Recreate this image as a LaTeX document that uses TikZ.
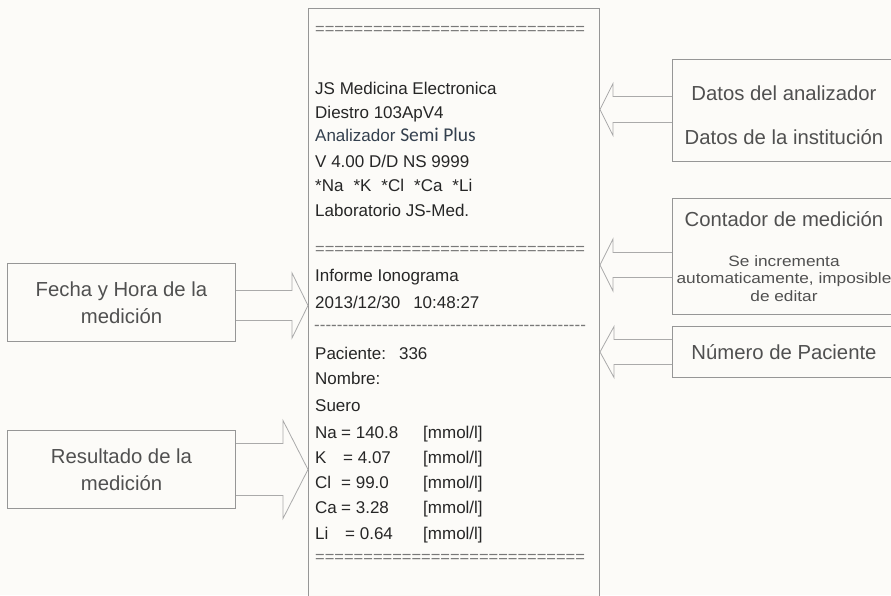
\documentclass[tikz,border=0pt]{standalone}
\usepackage{fontspec}
\setmainfont{Liberation Sans}
\newfontfamily\calibri{Carlito}
\usetikzlibrary{calc,positioning}
\definecolor{paper}{RGB}{252,251,248}
\definecolor{ink}{RGB}{38,38,38}
\definecolor{slate}{RGB}{52,64,78}
\definecolor{labelgray}{RGB}{80,80,80}
\definecolor{framegray}{RGB}{150,150,150}
\definecolor{arrowgray}{RGB}{170,170,170}
\definecolor{rulegray}{RGB}{120,120,120}

\tikzset{
  infobox/.style={draw=framegray, line width=1pt, fill=paper, text=labelgray,
    align=center, inner sep=0pt, anchor=north west},
  ticket/.style={draw=framegray, line width=1pt, fill=paper, inner sep=0pt, anchor=north west},
  row/.style={anchor=west, text=ink, inner sep=0pt, text height=12pt, text depth=0pt,
    font=\fontsize{17}{20}\selectfont},
  rulerow/.style={anchor=west, text=rulegray, inner sep=0pt, font=\fontsize{16.5}{20}\selectfont},
  barrow/.style={draw=arrowgray, line width=0.8pt, line join=miter},
}
\newcommand{\smalltxt}[1]{{\fontsize{15}{17}\selectfont\scalebox{1.15}[1]{#1}}}

% block arrow: start, tip, shaft half width, head half width, head length
\newcommand{\blockarrow}[5]{%
  \draw[barrow] let \p1=(#1), \p2=(#2), \n1={sign(\x2-\x1)} in
    ({\x1},{\y1+#3}) -- ({\x2-\n1*#5},{\y1+#3}) -- ({\x2-\n1*#5},{\y1+#4}) -- (\x2,\y1)
    -- ({\x2-\n1*#5},{\y1-#4}) -- ({\x2-\n1*#5},{\y1-#3}) -- ({\x1},{\y1-#3});}

\begin{document}
\begin{tikzpicture}[x=1pt,y=-1pt]
        % Page
        \fill[paper] (0,0) rectangle (891,595);
        \useasboundingbox (0,0) rectangle (891,595);
        % Printed ticket
        \node[ticket, minimum width=291pt, minimum height=600pt] (ticket) at (308,8) {};
        \node[rulerow] (rule1) at (315,30) {\foreach \i in {1,...,28}{=}};
        \node[row] (maker) at (315,88) {JS Medicina Electronica};
        \node[row] (model) at (315,112) {Diestro 103ApV4};
        \node[row] (analyzer) at (315,135) {\textcolor{slate}{Analizador} {\calibri\fontsize{19.5}{20}\selectfont\textcolor{slate}{Semi Plus}}};
        \node[row] (version) at (315,161) {V 4.00 D/D NS 9999};
        \node[row] (ions) at (315,185) {*Na\hspace{10pt}*K\hspace{10pt}*Cl\hspace{10pt}*Ca\hspace{10pt}*Li};
        \node[row] (lab) at (315,210) {Laboratorio JS-Med.};
        \node[rulerow] (rule2) at (315,250) {\foreach \i in {1,...,28}{=}};
        \node[row] (report) at (315,275) {Informe Ionograma};
        \node[row] (stamp) at (315,302) {2013/12/30\hspace{13pt}10:48:27};
        \node[rulerow] (dashrule) at (314,328) {\fontsize{17}{20}\selectfont\foreach \i in {1,...,48}{-}};
        \node[row] (patient) at (315,353) {Paciente:\hspace{13pt}336};
        \node[row] (name) at (315,378) {Nombre:};
        \node[row] (sample) at (315,405) {Suero};
        % Results
        \foreach \el/\val/\xe/\y in {Na/140.8/341/432, K/4.07/343/457, Cl/99.0/341/482, Ca/3.28/341/507, Li/0.64/345/533}{
          \node[row] (el\el) at (315,\y) {\el};
          \node[row] (val\el) at (\xe,\y) {= \val};
          \node[row] (unit\el) at (423,\y) {[mmol/l]};
        }
        \node[rulerow] (rule3) at (315,558) {\foreach \i in {1,...,28}{=}};
        % Right boxes
        \node[infobox, minimum width=223pt, minimum height=102pt, text height=69pt,
          font=\fontsize{20.3}{44}\selectfont] (datos) at (672,59)
          {Datos del analizador\\Datos de la institución};
        \node[infobox, minimum width=223pt, minimum height=116pt,
          font=\fontsize{20.3}{17}\selectfont] (contador) at (672,198)
          {Contador de medición\\[23pt]\smalltxt{Se incrementa}\\
           \smalltxt{automaticamente, imposible}\\[1pt]\smalltxt{de editar}};
        \node[infobox, minimum width=223pt, minimum height=51pt,
          font=\fontsize{20.3}{24}\selectfont] (paciente) at (672,326) {Número de Paciente};
        % Left boxes
        \node[infobox, minimum width=228pt, minimum height=78pt,
          font=\fontsize{20.3}{27}\selectfont] (fecha) at (7,263) {Fecha y Hora de la\\medición};
        \node[infobox, minimum width=228pt, minimum height=78pt,
          font=\fontsize{20.3}{27}\selectfont] (resultado) at (7,430) {Resultado de la\\medición};
        % Arrow ends
        \coordinate (datosS) at ($(datos.west)+(0,-1)$);
        \coordinate (contadorS) at ($(contador.west)+(0,8.5)$);
        \coordinate (pacienteS) at (paciente.west);
        \coordinate (fechaS) at ($(fecha.east)+(0,3)$);
        \coordinate (resultadoS) at (resultado.east);
        \coordinate (datosT) at (datosS -| ticket.east);
        \coordinate (contadorT) at (contadorS -| ticket.east);
        \coordinate (pacienteT) at (pacienteS -| ticket.east);
        \coordinate (fechaT) at (fechaS -| ticket.west);
        \coordinate (resultadoT) at (resultadoS -| ticket.west);
        % Arrows
        \blockarrow{datosS}{datosT}{13}{26}{13}
        \blockarrow{contadorS}{contadorT}{12.5}{26}{13}
        \blockarrow{pacienteS}{pacienteT}{12.5}{25.5}{14}
        \blockarrow{fechaS}{fechaT}{15}{32.5}{16}
        \blockarrow{resultadoS}{resultadoT}{26}{49}{25}
      \end{tikzpicture}
\end{document}
